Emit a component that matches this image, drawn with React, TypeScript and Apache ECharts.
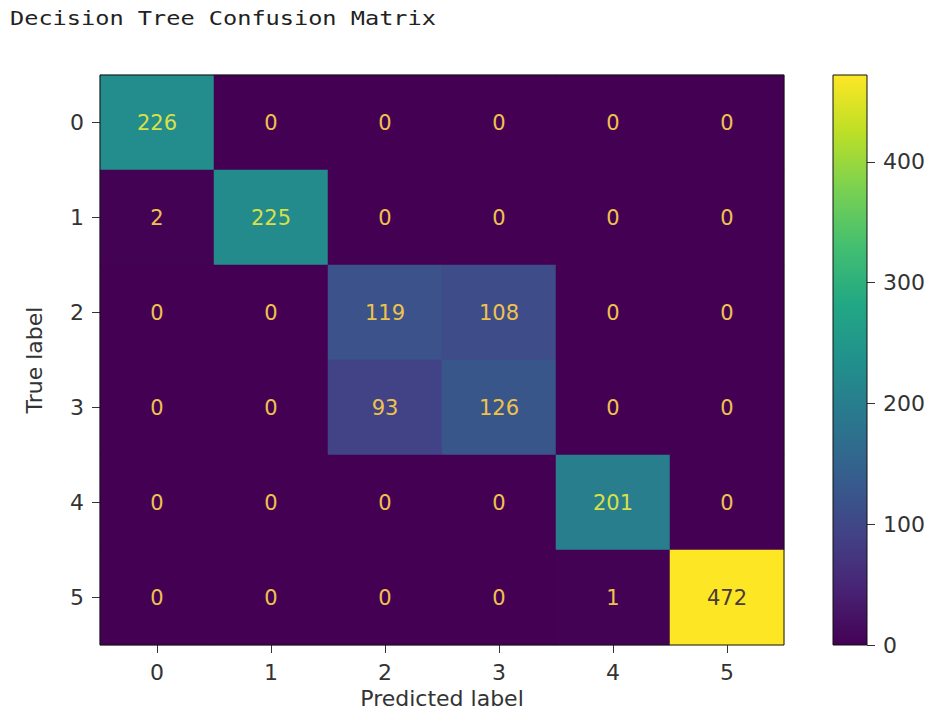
import React, { useEffect, useRef } from "react";
import * as echarts from "echarts";

const predictedLabels = ["0", "1", "2", "3", "4", "5"];
const trueLabels = ["0", "1", "2", "3", "4", "5"];
const matrix: number[][] = [
  [226, 0, 0, 0, 0, 0],
  [2, 225, 0, 0, 0, 0],
  [0, 0, 119, 108, 0, 0],
  [0, 0, 93, 126, 0, 0],
  [0, 0, 0, 0, 201, 0],
  [0, 0, 0, 0, 1, 472],
];
const colorbarTicks = [0, 100, 200, 300, 400];
const viridis = [
  "#440154", "#482475", "#414487", "#355f8d", "#2a788e", "#21918c",
  "#22a884", "#44bf70", "#7ad151", "#bddf26", "#fde725",
];

export default function App() {
  const ref = useRef<HTMLDivElement>(null);
  useEffect(() => {
    if (!ref.current) return;
    const chart = echarts.init(ref.current, null, { renderer: "svg" });
    const all = matrix.flat();
    const vmax = Math.max(...all);
    const vmin = Math.min(...all);
    const thresh = (vmax + vmin) / 2;
    const data: any[] = [];
    matrix.forEach((row, r) =>
      row.forEach((v, c) => {
        data.push({
          value: [c, r, v],
          label: { color: v < thresh ? (v > 150 ? "#d8e048" : "#efc24e") : "#4a3a3a" },
        });
      })
    );
    const font = "DejaVu Sans";
    const txt = "#333333";
    chart.setOption({
      animation: false,
      backgroundColor: "#ffffff",
      graphic: [
        {
          type: "text",
          left: 10,
          top: 8,
          scaleX: 1.18,
          style: {
            text: "Decision Tree Confusion Matrix",
            font: '20px "DejaVu Sans Mono"',
            fill: "#222222",
          },
        },
      ],
      grid: [
        { left: 100, top: 75, width: 684, height: 570, outerBoundsMode: "none", containLabel: false, show: true, borderColor: "#111", borderWidth: 1, backgroundColor: "transparent", z: 10 },
        { left: 833, top: 75, width: 34, height: 570, outerBoundsMode: "none", containLabel: false, show: true, borderColor: "#111", borderWidth: 1, backgroundColor: "transparent", z: 10 },
      ],
      xAxis: [
        {
          type: "category",
          gridIndex: 0,
          data: predictedLabels,
          position: "bottom",
          name: "Predicted label",
          nameLocation: "middle",
          nameGap: 42,
          nameTextStyle: { fontFamily: font, fontSize: 22, color: txt },
          axisLine: { show: false },
          axisTick: { show: true, alignWithLabel: true, length: 8, lineStyle: { color: "#333" } },
          axisLabel: { margin: 16, fontFamily: font, fontSize: 22, color: txt },
          splitLine: { show: false },
        },
        {
          type: "category",
          gridIndex: 1,
          data: ["c"],
          show: false,
        },
      ],
      yAxis: [
        {
          type: "category",
          gridIndex: 0,
          data: trueLabels,
          inverse: true,
          name: "True label",
          nameLocation: "middle",
          nameGap: 55,
          nameRotate: 90,
          nameTextStyle: { fontFamily: font, fontSize: 22, color: txt },
          axisLine: { show: false },
          axisTick: { show: true, alignWithLabel: true, length: 8, lineStyle: { color: "#333" } },
          axisLabel: { margin: 16, fontFamily: font, fontSize: 22, color: txt },
          splitLine: { show: false },
        },
        {
          type: "value",
          gridIndex: 1,
          position: "right",
          min: 0,
          max: vmax,
          axisLine: { show: false },
          axisTick: { show: true, length: 8, lineStyle: { color: "#333" }, customValues: colorbarTicks },
          axisLabel: {
            margin: 16,
            fontFamily: font,
            fontSize: 22,
            color: txt,
            customValues: colorbarTicks,
          },
          splitLine: { show: false },
        },
      ],
      visualMap: {
        type: "continuous",
        show: false,
        min: 0,
        max: vmax,
        seriesIndex: 0,
        dimension: 2,
        inRange: { color: viridis },
      },
      series: [
        {
          type: "heatmap",
          xAxisIndex: 0,
          yAxisIndex: 0,
          data,
          itemStyle: { borderWidth: 0 },
          label: {
            show: true,
            fontFamily: font,
            fontSize: 21,
            formatter: (p: any) => String(p.value[2]),
          },
          emphasis: { disabled: true },
        },
        {
          type: "bar",
          xAxisIndex: 1,
          yAxisIndex: 1,
          data: [vmax],
          barWidth: "100%",
          itemStyle: {
            color: new echarts.graphic.LinearGradient(
              0, 1, 0, 0,
              viridis.map((c, i) => ({ offset: i / (viridis.length - 1), color: c }))
            ),
          },
          emphasis: { disabled: true },
        },
      ],
    });
    return () => chart.dispose();
  }, []);
  return (
    <div
      ref={ref}
      style={{ position: "fixed", left: 0, top: 0, width: 936, height: 713 }}
    />
  );
}
